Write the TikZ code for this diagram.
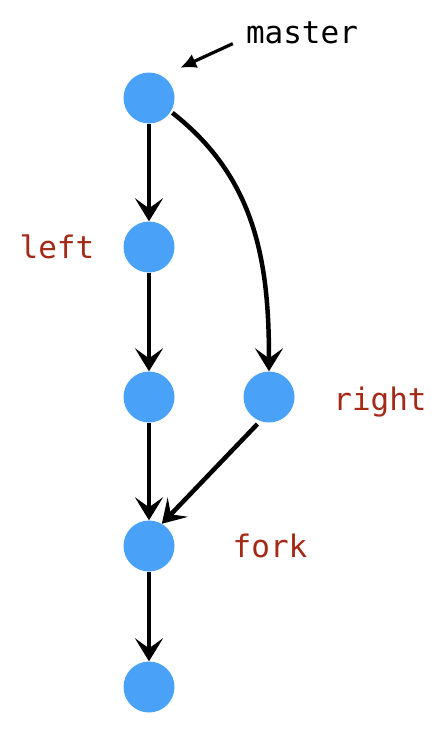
\documentclass[tikz,border=0pt]{standalone}
\usepackage{fontspec}
\setmonofont{DejaVu Sans Mono}
\usetikzlibrary{arrows.meta}
\definecolor{commitblue}{HTML}{4AA2F8}
\definecolor{branchred}{HTML}{A32A17}
\tikzset{
  commit/.style={circle, fill=commitblue, minimum size=51pt, inner sep=0pt},
  branch/.style={font=\fontsize{31}{36}\selectfont\ttfamily, text=branchred, anchor=base, inner sep=0pt},
  edge/.style={line width=4.5pt, -{Stealth[length=23pt,width=28pt,inset=10pt]}},
  pointer/.style={line width=3.2pt, -{Latex[length=16pt,width=15pt]}}
}
\begin{document}
\begin{tikzpicture}[x=1pt, y=-1pt]
  \useasboundingbox (0,0) rectangle (438,736);

  % Draw the commits
  \node[commit] (m) at (149,98) {};
  \node[commit] (l) at (149,247) {};
  \node[commit] (l2) at (149,397) {};
  \node[commit] (r) at (269,397) {};
  \node[commit] (f) at (149,546) {};
  \node[commit] (f2) at (149,687) {};

  % Draw the history
  \draw[edge] (m) -- (l);
  \draw[edge] (l) -- (l2);
  \draw[edge] (l2) -- (f);
  \draw[edge] (f) -- (f2);
  \draw[edge, shorten <=2pt] (m.-32) to[out=-38, in=90] (r.north);
  \draw[edge, shorten <=4pt] (r.-110) -- (f.60);

  % Add labels
  \node[branch, text=black] (lmaster) at (302,43) {master};
  \node[branch] (lleft) at (57,258) {left};
  \node[branch] (lright) at (380,410) {right};
  \node[branch] (lfork) at (270,557) {fork};

  % Point at master
  \draw[pointer] ([xshift=-13pt]lmaster.south west) -- ([shift={(13,-12)}]m.north east);
\end{tikzpicture}
\end{document}
